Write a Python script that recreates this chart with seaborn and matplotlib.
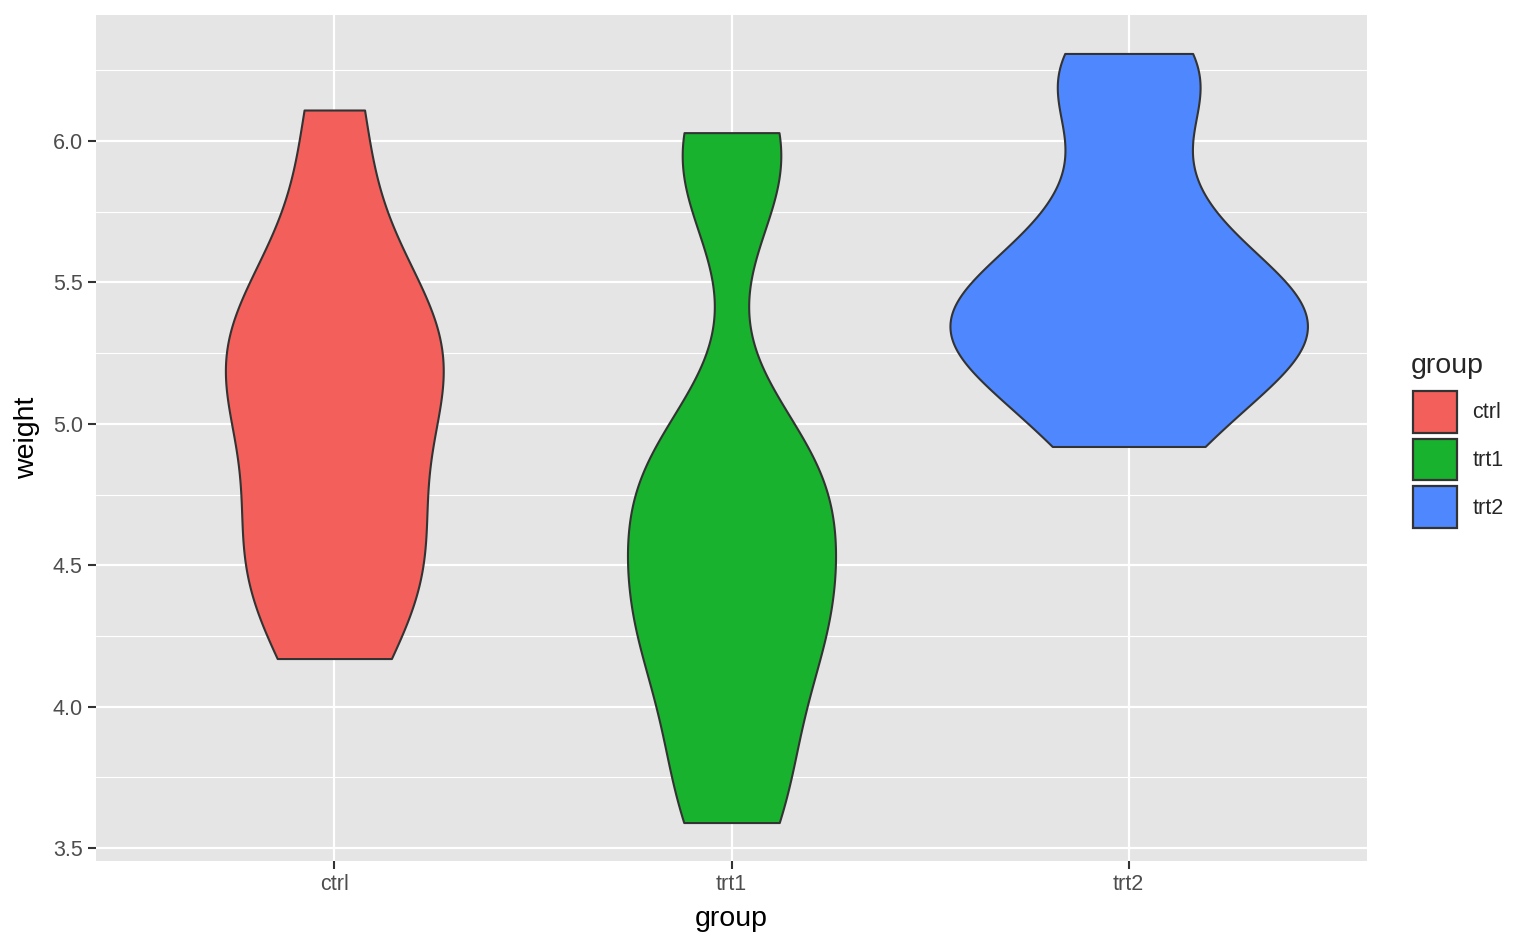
import numpy as np
import pandas as pd
import matplotlib
matplotlib.use("Agg")
import matplotlib.pyplot as plt
from matplotlib.patches import Patch
from matplotlib.ticker import MultipleLocator
import seaborn as sns

# PlantGrowth data
groups = ["ctrl", "trt1", "trt2"]
ctrl = [4.17, 5.58, 5.18, 6.11, 4.50, 4.61, 5.17, 4.53, 5.33, 5.14]
trt1 = [4.81, 4.17, 4.41, 3.59, 5.87, 3.83, 6.03, 4.89, 4.32, 4.69]
trt2 = [6.31, 5.12, 5.54, 5.50, 5.37, 5.29, 4.92, 6.15, 5.80, 5.26]
colors = ["#F35F5A", "#18B22E", "#4F88FE"]

df = pd.DataFrame({"group": np.repeat(groups, 10),
                   "weight": ctrl + trt1 + trt2})
pal = dict(zip(groups, colors))


def nrd0(x):
    # R's default bandwidth
    x = np.asarray(x)
    sd = x.std(ddof=1)
    q1, q3 = np.percentile(x, [25, 75])
    return 0.9 * min(sd, (q3 - q1) / 1.34) * len(x) ** -0.2


def kde_peak(x, bw):
    x = np.asarray(x)
    grid = np.linspace(x.min(), x.max(), 512)
    d = np.exp(-0.5 * ((grid[:, None] - x[None, :]) / bw) ** 2).sum(1)
    return (d / (len(x) * bw * np.sqrt(2 * np.pi))).max()


bws = {g: nrd0(df.weight[df.group == g]) for g in groups}
peaks = {g: kde_peak(df.weight[df.group == g], bws[g]) for g in groups}
top = max(peaks.values())

sns.set_theme(style="darkgrid")
plt.rcParams["font.family"] = ["Liberation Sans", "DejaVu Sans"]

fig = plt.figure(figsize=(15.36, 9.49), dpi=100)
ax = fig.add_axes([96 / 1536, 1 - 861 / 949, (1367 - 96) / 1536, (861 - 15) / 949])
ax.set_facecolor("#E5E5E5")

for g in groups:
    sub = df[df.group == g]
    sns.violinplot(data=sub, x="group", y="weight", hue="group",
                   order=groups, hue_order=groups, palette=pal,
                   bw_method=bws[g] / sub.weight.std(ddof=1), cut=0,
                   gridsize=300, density_norm="area",
                   width=0.9 * peaks[g] / top,
                   inner=None, linecolor="#333333", linewidth=1.5,
                   saturation=1, legend=False, ax=ax)

ax.set_xlim(-0.6, 2.6)
ax.set_ylim(3.454, 6.446)
ax.yaxis.set_major_locator(MultipleLocator(0.5))
ax.yaxis.set_minor_locator(MultipleLocator(0.25))
ax.yaxis.set_major_formatter(matplotlib.ticker.FormatStrFormatter("%.1f"))
ax.grid(which="major", color="white", linewidth=1.6)
ax.grid(which="minor", axis="y", color="white", linewidth=0.8)
ax.set_axisbelow(True)
for s in ax.spines.values():
    s.set_visible(False)
ax.tick_params(which="major", length=5.5, width=1.5, color="#333333",
               labelsize=15.5, labelcolor="#4D4D4D", pad=4)
ax.tick_params(which="minor", length=0)
ax.tick_params(axis="x", bottom=True)
ax.tick_params(axis="y", left=True)
ax.set_xlabel("group", fontsize=20.5, color="black", labelpad=8)
ax.set_ylabel("weight", fontsize=20.5, color="black", labelpad=9)

# legend: title as separate text so the gap to the keys matches
fig.text(1411 / 1536, 1 - 373 / 949, "group", fontsize=20.5, va="baseline")
handles = [Patch(facecolor=c, edgecolor="#333333", linewidth=1.6) for c in colors]
leg = fig.legend(handles, groups, loc="upper left",
                 bbox_to_anchor=(1413 / 1536, 1 - 391 / 949), frameon=False,
                 fontsize=15.5, handlelength=2.05, handleheight=2.6,
                 labelspacing=0.28, handletextpad=0.7, borderpad=0,
                 borderaxespad=0)

fig.savefig("out.png", dpi=100)
